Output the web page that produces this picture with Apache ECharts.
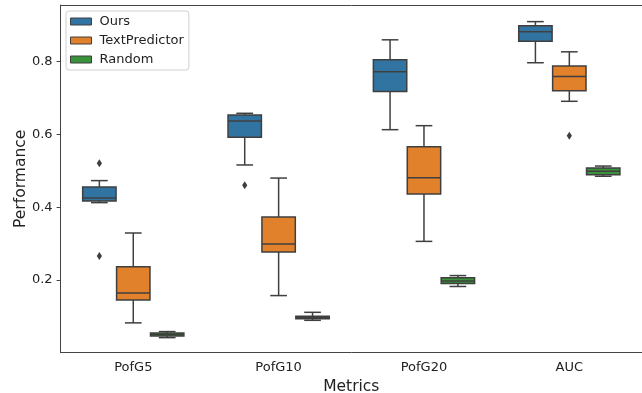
<!DOCTYPE html>
<html>
<head>
<meta charset="utf-8">
<script src="https://cdn.jsdelivr.net/npm/echarts@6/dist/echarts.min.js"></script>
<style>
html,body{margin:0;padding:0;background:#fff;}
#c{width:642px;height:393px;}
</style>
</head>
<body>
<div id="c"></div>
<script>
const categories = ['PofG5', 'PofG10', 'PofG20', 'AUC'];
const seriesNames = ['Ours', 'TextPredictor', 'Random'];
// [min, Q1, median, Q3, max] per category
const oursStats = [
  [0.4125, 0.417, 0.4254, 0.4556, 0.473],
  [0.516, 0.592, 0.637, 0.6535, 0.658],
  [0.613, 0.718, 0.772, 0.805, 0.860],
  [0.797, 0.856, 0.882, 0.899, 0.910]
];
const textStats = [
  [0.082, 0.145, 0.164, 0.236, 0.329],
  [0.157, 0.277, 0.299, 0.373, 0.480],
  [0.306, 0.436, 0.481, 0.566, 0.624],
  [0.691, 0.720, 0.759, 0.788, 0.827]
];
const randomStats = [
  [0.0414, 0.046, 0.050, 0.054, 0.058],
  [0.089, 0.093, 0.097, 0.100, 0.111],
  [0.182, 0.190, 0.197, 0.206, 0.212],
  [0.485, 0.489, 0.4985, 0.508, 0.513]
];
// [category index, value]
const oursOutliers = [[0, 0.521], [0, 0.266], [1, 0.460]];
const textOutliers = [[3, 0.596]];
const randomOutliers = [];
const yTicks = [0.2, 0.4, 0.6, 0.8];

const colors = ['#3274a1', '#e1812c', '#3a923a'];
const edge = '#3f3f3f';
const HUE_STEP = 0.2333;
const BOX_FRAC = 0.2297;
const FONT = 'DejaVu Sans';

const allStats = [oursStats, textStats, randomStats];
const allOutliers = [oursOutliers, textOutliers, randomOutliers];

function boxRenderer(hue) {
  return function (params, api) {
    const cat = api.value(0);
    const band = api.size([1, 0])[0];
    const cx = api.coord([cat, 0])[0] + (hue - 1) * HUE_STEP * band;
    const w = BOX_FRAC * band;
    const y = i => api.coord([cat, api.value(i)])[1];
    const yMin = y(1), yQ1 = y(2), yMed = y(3), yQ3 = y(4), yMax = y(5);
    const ls = { stroke: edge, lineWidth: 1.5 };
    return {
      type: 'group',
      children: [
        { type: 'line', shape: { x1: cx, y1: yQ3, x2: cx, y2: yMax }, style: ls },
        { type: 'line', shape: { x1: cx, y1: yQ1, x2: cx, y2: yMin }, style: ls },
        { type: 'line', shape: { x1: cx - w / 4, y1: yMax, x2: cx + w / 4, y2: yMax }, style: ls },
        { type: 'line', shape: { x1: cx - w / 4, y1: yMin, x2: cx + w / 4, y2: yMin }, style: ls },
        { type: 'rect', shape: { x: cx - w / 2, y: yQ3, width: w, height: yQ1 - yQ3 },
          style: { fill: colors[hue], stroke: edge, lineWidth: 1.5 } },
        { type: 'line', shape: { x1: cx - w / 2, y1: yMed, x2: cx + w / 2, y2: yMed }, style: ls }
      ]
    };
  };
}

function outlierRenderer(hue) {
  return function (params, api) {
    const cat = api.value(0);
    const band = api.size([1, 0])[0];
    const p = api.coord([cat, api.value(1)]);
    const cx = p[0] + (hue - 1) * HUE_STEP * band;
    const cy = p[1];
    return {
      type: 'polygon',
      shape: { points: [[cx, cy - 4], [cx + 2.6, cy], [cx, cy + 4], [cx - 2.6, cy]] },
      style: { fill: edge }
    };
  };
}

const series = [];
seriesNames.forEach((name, hue) => {
  series.push({
    name: name,
    type: 'custom',
    renderItem: boxRenderer(hue),
    itemStyle: { color: colors[hue] },
    encode: { x: 0, y: [1, 2, 3, 4, 5] },
    data: allStats[hue].map((s, i) => [i].concat(s)),
    z: 3
  });
  series.push({
    name: name,
    type: 'custom',
    renderItem: outlierRenderer(hue),
    itemStyle: { color: colors[hue] },
    encode: { x: 0, y: 1 },
    data: allOutliers[hue],
    z: 4
  });
});

const chart = echarts.init(document.getElementById('c'), null, { renderer: 'canvas' });
chart.setOption({
  animation: false,
  backgroundColor: '#fff',
  textStyle: { fontFamily: FONT },
  grid: { left: 60.6, right: 0, top: 5, bottom: 40.3, containLabel: false, outerBoundsMode: 'none' },
  legend: {
    orient: 'vertical',
    left: 66, top: 11,
    padding: [4, 5, 4, 4],
    itemGap: 6,
    itemWidth: 21,
    itemHeight: 7,
    backgroundColor: '#fff',
    borderColor: '#d0d0d0',
    borderWidth: 1,
    borderRadius: 3,
    icon: 'rect',
    textStyle: { fontFamily: FONT, fontSize: 13, color: '#222', padding: [0, 0, 0, 3] },
    data: seriesNames.map((n, i) => ({
      name: n, icon: 'rect',
      itemStyle: { color: colors[i], borderColor: edge, borderWidth: 1 }
    }))
  },
  xAxis: [{
    type: 'category',
    data: categories,
    boundaryGap: true,
    name: 'Metrics',
    nameLocation: 'middle',
    nameGap: 24,
    nameTextStyle: { fontFamily: FONT, fontSize: 15.5, color: '#222' },
    axisLine: { lineStyle: { color: '#444', width: 1 } },
    axisTick: { alignWithLabel: true, length: 4, lineStyle: { color: '#444' } },
    axisLabel: { fontFamily: FONT, fontSize: 13, color: '#222', margin: 8 },
    splitLine: { show: false }
  }, {
    type: 'category',
    data: categories,
    position: 'top',
    axisLine: { show: true, lineStyle: { color: '#444', width: 1 } },
    axisTick: { show: false },
    axisLabel: { show: false },
    splitLine: { show: false }
  }],
  yAxis: {
    type: 'value',
    min: 0,
    max: 0.9557,
    name: 'Performance',
    nameLocation: 'middle',
    nameGap: 32,
    nameMoveOverlap: false,
    nameTextStyle: { fontFamily: FONT, fontSize: 15.5, color: '#222' },
    axisLine: { show: true, lineStyle: { color: '#444', width: 1 } },
    axisTick: { show: true, length: 4, customValues: yTicks, lineStyle: { color: '#444' } },
    axisLabel: { fontFamily: FONT, fontSize: 13, color: '#222', margin: 8,
      customValues: yTicks, formatter: v => v.toFixed(1) },
    splitLine: { show: false }
  },
  series: series
});
</script>
</body>
</html>
